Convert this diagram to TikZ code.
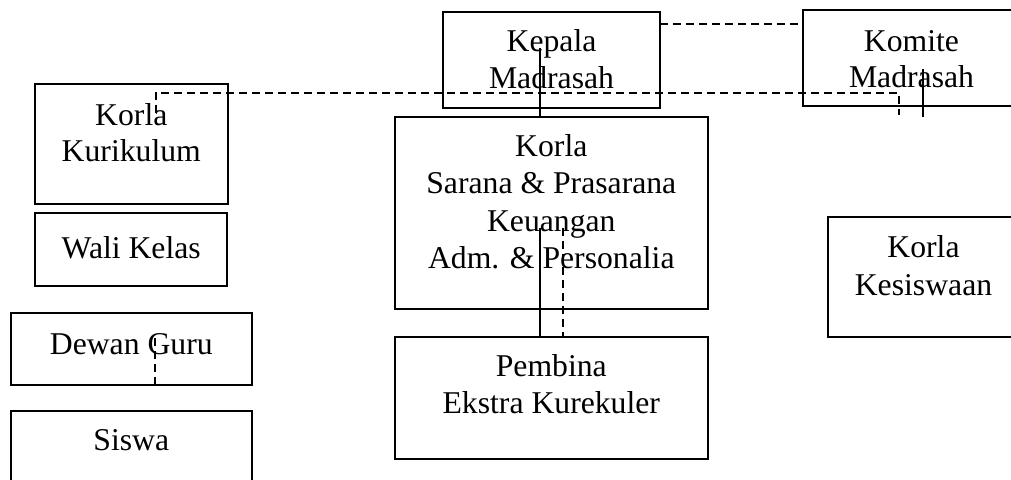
\documentclass[tikz,border=0pt]{standalone}
\usepackage{fontspec}
\setmainfont{Liberation Serif}
\begin{document}
\begin{tikzpicture}[x=1pt,y=-1pt,
  box/.style={draw, line width=2pt, rectangle, inner sep=0pt, outer sep=0pt},
  txt/.style={inner sep=0pt, anchor=base, font=\fontsize{31.7}{37}\selectfont},
  solidline/.style={line width=2pt},
  dashline/.style={line width=1.9pt, dash pattern=on 8pt off 5pt}]
\useasboundingbox (0,0) rectangle (1011,479);
\clip (0,0) rectangle (1011,479);
% boxes
\node[box, minimum width=216.7pt, minimum height=96pt] (kepala) at (551.7,59.7) {};
\node[box, minimum width=216.4pt, minimum height=96pt] (komite) at (911.5,58) {};
\node[box, minimum width=192.7pt, minimum height=120.3pt] (kurikulum) at (131.3,144.2) {};
\node[box, minimum width=192.3pt, minimum height=72.7pt] (wali) at (131.2,249.7) {};
\node[box, minimum width=240.7pt, minimum height=71.7pt] (dewan) at (131.3,349.2) {};
\node[box, minimum width=240.7pt, minimum height=88.6pt] (siswa) at (131.3,455) {};
\node[box, minimum width=312.7pt, minimum height=192.6pt] (sarana) at (551.3,213) {};
\node[box, minimum width=312.7pt, minimum height=121.2pt] (pembina) at (551.3,397.9) {};
\node[box, minimum width=191.3pt, minimum height=120pt] (kesiswaan) at (923.3,276.7) {};
% texts
\node[txt] (kep1) at (551.5,51.7) {Kepala};
\node[txt] (kep2) at (551.5,88) {Madrasah};
\node[txt] (kom1) at (911.5,51.7) {Komite};
\node[txt] (kom2) at (911.5,87) {Madrasah};
\node[txt] (kur1) at (131.3,125) {Korla};
\node[txt] (kur2) at (131.3,161.7) {Kurikulum};
\node[txt] (wal1) at (131.2,258) {Wali Kelas};
\node[txt] (dew1) at (131.3,354.3) {Dewan Guru};
\node[txt] (sis1) at (131.3,450) {Siswa};
\node[txt] (sar1) at (551.3,156.7) {Korla};
\node[txt] (sar2) at (551.3,193.3) {Sarana \& Prasarana};
\node[txt] (sar3) at (551.3,231.7) {Keuangan};
\node[txt] (sar4) at (551.3,268.3) {Adm. \& Personalia};
\node[txt] (pem1) at (551.3,376.7) {Pembina};
\node[txt] (pem2) at (551.3,413) {Ekstra Kurekuler};
\node[txt] (kes1) at (923.5,257.3) {Korla};
\node[txt] (kes2) at (923.5,295) {Kesiswaan};
% connector coordinates
\coordinate (topdash) at (0,24.3);
\coordinate (ka) at (155.7,113.3);
\coordinate (kb) at (155.7,92.7);
\coordinate (kc) at (899.3,92.7);
\coordinate (kd) at (899.3,115);
\coordinate (ma) at (923.3,69);
\coordinate (mb) at (923.3,116.7);
\coordinate (kp) at (540,48.3);
\coordinate (sa) at (540,228);
\coordinate (sb) at (563.3,228);
\coordinate (dg) at (155,338);
% connectors
\draw[dashline] (kepala.east |- topdash) -- (komite.west |- topdash);
\draw[dashline] (ka) -- (kb) -- (kc) -- (kd);
\draw[solidline] (ma) -- (mb);
\draw[solidline] (kp) -- (kp |- sarana.north);
\draw[solidline] (sa) -- (sa |- pembina.north);
\draw[dashline] (sb) -- (sb |- pembina.north);
\draw[dashline] (dg) -- (dg |- dewan.south);
\end{tikzpicture}
\end{document}
